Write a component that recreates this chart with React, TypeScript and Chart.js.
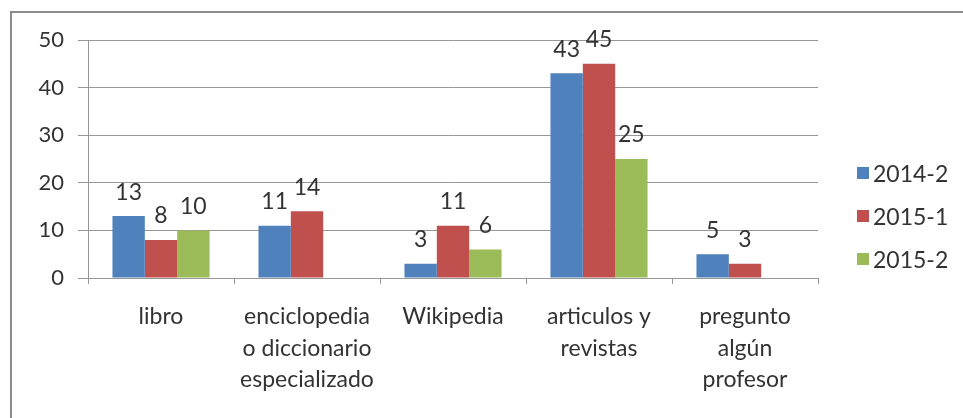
import React, { useEffect, useRef } from "react";
import { Chart, registerables } from "chart.js";

Chart.register(...registerables);

const CATEGORIES: string[][] = [
  ["libro"],
  ["enciclopedia", "o diccionario", "especializado"],
  ["Wikipedia"],
  ["articulos y", "revistas"],
  ["pregunto", "algún", "profesor"],
];
const SERIES_NAMES = ["2014-2", "2015-1", "2015-2"];
const S_2014_2: (number | null)[] = [13, 11, 3, 43, 5];
const S_2015_1: (number | null)[] = [8, 14, 11, 45, 3];
const S_2015_2: (number | null)[] = [10, null, 6, 25, null];
const Y_MIN = 0;
const Y_MAX = 50;
const Y_STEP = 10;
const COLORS = ["#4F81BD", "#C0504D", "#9BBB59"];

const FONT = "Lato, 'Open Sans', sans-serif";
const TEXT = "#333333";
const GRID = "#979797";

const valueLabels = {
  id: "valueLabels",
  afterDatasetsDraw(chart: any) {
    const ctx = chart.ctx;
    ctx.save();
    ctx.font = `23px ${FONT}`;
    ctx.fillStyle = TEXT;
    ctx.textAlign = "center";
    ctx.textBaseline = "middle";
    chart.data.datasets.forEach((ds: any, di: number) => {
      const meta = chart.getDatasetMeta(di);
      meta.data.forEach((el: any, i: number) => {
        const v = ds.data[i];
        if (v === null || v === undefined) return;
        ctx.fillText(String(v), el.x, el.y - 24);
      });
    });
    ctx.restore();
  },
};

export default function App() {
  const ref = useRef<HTMLCanvasElement | null>(null);

  useEffect(() => {
    if (!ref.current) return;
    const series = [S_2014_2, S_2015_1, S_2015_2];
    const chart = new Chart(ref.current, {
      type: "bar",
      data: {
        labels: CATEGORIES,
        datasets: series.map((d, i) => ({
          label: SERIES_NAMES[i],
          data: d,
          backgroundColor: COLORS[i],
          borderWidth: 0,
          barPercentage: 1,
          categoryPercentage: 0.665,
        })),
      },
      options: {
        animation: false,
        responsive: false,
        maintainAspectRatio: false,
        layout: { padding: { left: 0, top: 40, right: 145, bottom: 0 } },
        plugins: {
          legend: { display: false },
          tooltip: { enabled: false },
        },
        scales: {
          x: {
            offset: true,
            grid: {
              offset: true,
              drawOnChartArea: false,
              drawTicks: true,
              tickLength: 6,
              color: GRID,
            },
            border: { display: true, color: GRID },
            ticks: {
              color: TEXT,
              padding: 17,
              maxRotation: 0,
              autoSkip: false,
              font: { family: FONT, size: 23, lineHeight: 1.37 },
            },
            afterFit: (s: any) => {
              s.height = 140;
            },
          },
          y: {
            min: Y_MIN,
            max: Y_MAX,
            ticks: {
              stepSize: Y_STEP,
              color: TEXT,
              padding: 14,
              font: { family: FONT, size: 22 },
            },
            grid: { color: GRID, tickLength: 10, drawTicks: true },
            border: { display: true, color: GRID },
            afterFit: (s: any) => {
              s.width = 88;
            },
          },
        },
      },
      plugins: [valueLabels],
    });
    return () => chart.destroy();
  }, []);

  return (
    <div
      style={{
        position: "absolute",
        left: 0,
        top: 0,
        width: 963,
        height: 418,
        background: "#fff",
        overflow: "hidden",
      }}
    >
      <div
        style={{
          position: "absolute",
          left: 10,
          top: 11,
          width: 1000,
          height: 500,
          borderLeft: "2px solid #8c8c8c",
          borderTop: "2px solid #8c8c8c",
        }}
      />
      <canvas
        ref={ref}
        width={963}
        height={418}
        style={{ position: "absolute", left: 0, top: 0, width: 963, height: 418 }}
      />
      <div style={{ position: "absolute", left: 857, top: 151 }}>
        {SERIES_NAMES.map((n, i) => (
          <div
            key={n}
            style={{
              height: 43,
              display: "flex",
              alignItems: "center",
              fontFamily: FONT,
              fontSize: 23,
              color: TEXT,
            }}
          >
            <span
              style={{
                display: "inline-block",
                width: 12,
                height: 12,
                background: COLORS[i],
                marginRight: 4,
              }}
            />
            <span>{n}</span>
          </div>
        ))}
      </div>
    </div>
  );
}
